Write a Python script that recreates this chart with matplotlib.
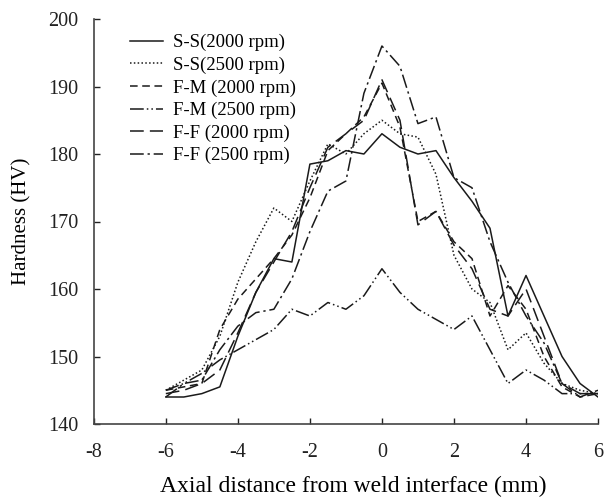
import matplotlib
matplotlib.use("Agg")
import matplotlib.pyplot as plt

plt.rcParams['font.family'] = ['Liberation Serif', 'DejaVu Serif']
plt.rcParams['axes.unicode_minus'] = False

# distância axial (mm), passo de 0.5 mm
x = [-6, -5.5, -5, -4.5, -4, -3.5, -3, -2.5, -2, -1.5, -1, -0.5, 0,
     0.5, 1, 1.5, 2, 2.5, 3, 3.5, 4, 4.5, 5, 5.5, 6]

ss_2000 = [144, 144, 144.5, 145.5, 153, 159.5, 164.5, 164, 178.5, 179, 180.5, 180, 183,
           181, 180, 180.5, 176.5, 173, 169, 156, 162, 156, 150, 146, 144]
ss_2500 = [145, 146.5, 148, 153, 161, 167, 172, 170, 176, 181.5, 180, 183, 185,
           183, 182.5, 177, 165, 160, 158, 151, 153.5, 149, 146, 145, 144.5]
fm_2000 = [145, 145.5, 146, 154, 158.5, 161.5, 164.5, 168, 173.5, 180.5, 183, 185.5, 190.5,
           184, 170, 171.5, 167, 164.5, 156, 160.5, 157, 150, 145.5, 144, 144.5]
fm_2500 = [145, 146, 147.5, 149.5, 151, 152.5, 154, 157, 156, 158, 157, 159, 163,
           159.5, 157, 155.5, 154, 156, 151, 146, 148, 146.5, 144.5, 144.5, 144.5]
ff_2000 = [144.5, 145, 146, 148, 153.5, 159.5, 164, 168.5, 175, 181, 183, 185, 191,
           185, 169.5, 171.5, 166.5, 163, 157, 156, 160, 153, 146, 144, 145]
ff_2500 = [144, 146, 146.5, 151, 154.5, 156.5, 157, 161.5, 168.5, 174.5, 176, 189, 196,
           193, 184.5, 185.5, 176.5, 175, 167, 161, 156, 152, 146, 144.5, 144.5]

series = [
    ('S-S(2000 rpm)', ss_2000, '-'),
    ('S-S(2500 rpm)', ss_2500, (0, (1, 1.5))),
    ('F-M (2000 rpm)', fm_2000, (0, (5, 3))),
    ('F-M (2500 rpm)', fm_2500, (0, (9, 2, 1, 2, 1, 2))),
    ('F-F (2000 rpm)', ff_2000, (0, (9, 4))),
    ('F-F (2500 rpm)', ff_2500, (0, (9, 2.5, 1.5, 2.5))),
]

fig = plt.figure(figsize=(6.09, 5.0), dpi=100)
ax = fig.add_axes([0.154, 0.152, 0.828, 0.81])

for nome, y, estilo in series:
    ax.plot(x, y, color='#1a1a1a', linestyle=estilo, linewidth=1.1, label=nome)

ax.set_xlim(-8, 6)
ax.set_ylim(140, 200)
ax.set_xticks(range(-8, 7, 2))
ax.set_yticks(range(140, 201, 10))
ax.tick_params(direction='in', length=4, width=1, labelsize=14.5, colors='#222222')
ax.tick_params(axis='x', pad=14)
ax.tick_params(axis='y', pad=11)
for lado in ['top', 'right']:
    ax.spines[lado].set_visible(False)
for lado in ['left', 'bottom']:
    ax.spines[lado].set_color('#444444')
    ax.spines[lado].set_linewidth(1.2)

ax.set_xlabel('Axial distance from weld interface (mm)', fontsize=17, labelpad=10, x=0.515)
ax.set_ylabel('Hardness (HV)', fontsize=15, labelpad=12)

ax.legend(loc='upper left', bbox_to_anchor=(0.045, 0.995), frameon=False, fontsize=13.5,
          handlelength=1.8, handletextpad=0.5, labelspacing=0.28, borderaxespad=0.3)

fig.savefig('out.png', dpi=100, facecolor='white')
